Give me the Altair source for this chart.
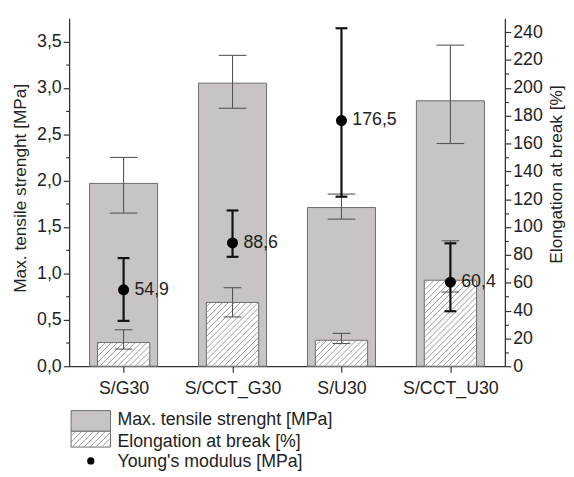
import math
import altair as alt
import pandas as pd

# ---------------- data ----------------
categories = ["S/G30", "S/CCT_G30", "S/U30", "S/CCT_U30"]

tensile = [1.97, 3.05, 1.71, 2.86]          # Max. tensile strenght [MPa]
tensile_hi = [2.25, 3.35, 1.855, 3.46]
tensile_lo = [1.65, 2.78, 1.585, 2.40]

elong = [17.0, 45.8, 18.6, 61.8]            # Elongation at break [%]
elong_hi = [26.2, 56.4, 23.6, 90.1]
elong_lo = [12.3, 35.4, 16.3, 53.3]

young = [54.9, 88.6, 176.5, 60.4]           # Young's modulus [MPa]
young_hi = [77.7, 111.9, 242.8, 88.3]
young_lo = [32.6, 78.6, 121.8, 39.5]
young_labels = ["54,9", "88,6", "176,5", "60,4"]

legend_labels = ["Max. tensile strenght [MPa]", "Elongation at break [%]", "Young's modulus [MPa]"]
left_title = "Max. tensile strenght [MPa]"
right_title = "Elongation at break [%]"

# ---------------- layout / style constants ----------------
W, H = 442, 353
X_DOM = [0.5, 4.5]
YL_DOM = [0, 3.75]
YR_DOM = [0, 250]
PXX = W / (X_DOM[1] - X_DOM[0])
PXYR = H / YR_DOM[1]
FONT = "Liberation Sans"

GREY_HALF = 69 / 2 / PXX
HATCH_HALF = 53 / 2 / PXX
CAP_GREY = 14 / PXX
CAP_HATCH = 9 / PXX
CAP_YOUNG = 6 / PXX

GREY = "#c7c4c3"
EDGE = "#6c6c6c"
HATCH = "#8c8c8c"

idx = list(range(1, len(categories) + 1))

df = pd.DataFrame({
    "i": idx, "cat": categories,
    "t": tensile, "t_hi": tensile_hi, "t_lo": tensile_lo,
    "e": elong, "e_hi": elong_hi, "e_lo": elong_lo,
    "y": young, "y_hi": young_hi, "y_lo": young_lo, "ylab": young_labels,
})
df["g0"] = df["i"] - GREY_HALF
df["g1"] = df["i"] + GREY_HALF
df["h0"] = df["i"] - HATCH_HALF
df["h1"] = df["i"] + HATCH_HALF
df["zero"] = 0.0


def caps(lo, hi, half):
    rows = []
    for i, a, b in zip(idx, lo, hi):
        rows.append({"x0": i - half, "x1": i + half, "v": a})
        rows.append({"x0": i - half, "x1": i + half, "v": b})
    return pd.DataFrame(rows)


def hatch_segments(x0, x1, ytop, ybot, step=6.0):
    segs = []
    c = math.floor((x0 + ytop) / step) * step
    while c <= x1 + ybot:
        xa = max(x0, c - ybot)
        xb = min(x1, c - ytop)
        if xb - xa > 0.5:
            segs.append((xa, c - xa, xb, c - xb))
        c += step
    return segs


def px_to_data(px, py):
    return X_DOM[0] + px / PXX, (H - py) / PXYR


hrows = []
for i, e in zip(idx, elong):
    x0 = (i - HATCH_HALF - X_DOM[0]) * PXX + 0.5
    x1 = (i + HATCH_HALF - X_DOM[0]) * PXX - 0.5
    ytop = H - e * PXYR + 0.5
    for (ax, ay, bx, by) in hatch_segments(x0, x1, ytop, H - 0.5):
        xa, ya = px_to_data(ax, ay)
        xb, yb = px_to_data(bx, by)
        hrows.append({"xa": xa, "ya": ya, "xb": xb, "yb": yb})
# legend swatch hatching (pixel box relative to the plot origin)
LG_X0, LG_X1 = 2, 42
LG_R1 = (398, 419)
LG_R2 = (419, 435)
for (ax, ay, bx, by) in hatch_segments(LG_X0 + 0.5, LG_X1 - 0.5, LG_R2[0] + 0.5, LG_R2[1] - 0.5):
    xa, ya = px_to_data(ax, ay)
    xb, yb = px_to_data(bx, by)
    hrows.append({"xa": xa, "ya": ya, "xb": xb, "yb": yb})
hatch_df = pd.DataFrame(hrows)

# ---------------- scales / axes ----------------
xscale = alt.Scale(domain=X_DOM, nice=False, zero=False)
label_list = "[" + ",".join("'" + c + "'" for c in categories) + "]"
xaxis = alt.Axis(
    values=idx, labelExpr=label_list + "[datum.value - 1]", title=None,
    tickSize=6, labelPadding=8, labelFontSize=18, labelFlush=False,
    labelOverlap=False, grid=False,
)

lscale = alt.Scale(domain=YL_DOM, nice=False, zero=True)
laxis = alt.Axis(
    values=[k * 0.25 for k in range(15)],
    labelExpr="(datum.value * 4) % 2 == 0 ? replace(format(datum.value, '.1f'), '.', ',') : ''",
    tickSize={"condition": {"test": "(datum.value * 4) % 2 == 0", "value": 6}, "value": 3.5},
    title=left_title, titleX=-49, titleY=172, titleAngle=270,
    titleAlign="center", titleBaseline="middle",
    labelPadding=2, labelFontSize=18, labelOverlap=False, grid=False,
)

rscale = alt.Scale(domain=YR_DOM, nice=False, zero=True)
raxis = alt.Axis(
    orient="right",
    values=list(range(0, 250, 10)),
    labelExpr="datum.value % 20 == 0 ? format(datum.value, 'd') : ''",
    tickSize={"condition": {"test": "datum.value % 20 == 0", "value": 6}, "value": 3.5},
    title=right_title, titleX=52, titleY=158, titleAngle=270,
    titleAlign="center", titleBaseline="middle",
    labelPadding=2, labelFontSize=18, labelOverlap=False, grid=False,
)


def X(f):
    return alt.X(f, type="quantitative", scale=xscale, axis=xaxis)


def YL(f):
    return alt.Y(f, type="quantitative", scale=lscale, axis=laxis)


def YR(f):
    return alt.Y(f, type="quantitative", scale=rscale, axis=raxis)


base = alt.Chart(df)

# ---------------- left group: tensile strength ----------------
grey_bars = base.mark_rect(fill=GREY, stroke=EDGE, strokeWidth=1).encode(
    x=X("g0"), x2="g1", y=YL("zero"), y2="t")
grey_err = base.mark_rule(color="#555555", strokeWidth=1.1).encode(
    x=X("i"), y=YL("t_lo"), y2="t_hi")
grey_caps = alt.Chart(caps(tensile_lo, tensile_hi, CAP_GREY)).mark_rule(
    color="#555555", strokeWidth=1.1).encode(x=X("x0"), x2="x1", y=YL("v"))

leg_df = pd.DataFrame({"label": legend_labels})
leg_grey = alt.Chart(leg_df.iloc[[0]]).mark_rect(fill=GREY, stroke=EDGE, strokeWidth=1).encode(
    x=alt.value(LG_X0), x2=alt.value(LG_X1), y=alt.value(LG_R1[0]), y2=alt.value(LG_R1[1]))

left = alt.layer(grey_bars, grey_err, grey_caps, leg_grey)

# ---------------- right group: elongation + Young's modulus ----------------
hatch_bars = base.mark_rect(fill="white", stroke=EDGE, strokeWidth=1).encode(
    x=X("h0"), x2="h1", y=YR("zero"), y2="e")
leg_hatch = alt.Chart(leg_df.iloc[[1]]).mark_rect(fill="white", stroke=EDGE, strokeWidth=1).encode(
    x=alt.value(LG_X0), x2=alt.value(LG_X1), y=alt.value(LG_R2[0]), y2=alt.value(LG_R2[1]))
hatch_lines = alt.Chart(hatch_df).mark_rule(color=HATCH, strokeWidth=0.9).encode(
    x=X("xa"), x2="xb", y=YR("ya"), y2="yb")
hatch_err = base.mark_rule(color="#555555", strokeWidth=1.1).encode(
    x=X("i"), y=YR("e_lo"), y2="e_hi")
hatch_caps = alt.Chart(caps(elong_lo, elong_hi, CAP_HATCH)).mark_rule(
    color="#555555", strokeWidth=1.1).encode(x=X("x0"), x2="x1", y=YR("v"))

young_err = base.mark_rule(color="#111111", strokeWidth=2.2).encode(
    x=X("i"), y=YR("y_lo"), y2="y_hi")
young_caps = alt.Chart(caps(young_lo, young_hi, CAP_YOUNG)).mark_rule(
    color="#111111", strokeWidth=2.2).encode(x=X("x0"), x2="x1", y=YR("v"))
young_pts = base.mark_point(filled=True, shape="circle", size=125, color="black", opacity=1).encode(
    x=X("i"), y=YR("y"))
young_txt = base.mark_text(align="left", baseline="middle", dx=11, fontSize=18,
                           font=FONT, color="#222222").encode(
    x=X("i"), y=YR("y"), text="ylab:N")

leg_dot = alt.Chart(leg_df.iloc[[2]]).mark_point(filled=True, shape="circle", size=55,
                                                 color="black", opacity=1).encode(
    x=alt.value(22), y=alt.value(449))
leg_text_layers = []
for k, yb in enumerate([413, 435, 455]):
    leg_text_layers.append(
        alt.Chart(leg_df.iloc[[k]]).mark_text(align="left", baseline="alphabetic", fontSize=18,
                                              font=FONT, color="#222222").encode(
            x=alt.value(49), y=alt.value(yb), text="label:N"))

right = alt.layer(hatch_bars, leg_hatch, hatch_lines, hatch_err, hatch_caps,
                  young_err, young_caps, young_pts, young_txt, leg_dot, *leg_text_layers)

chart = alt.layer(left, right).resolve_scale(y="independent").properties(
    width=W, height=H,
    padding={"left": 62, "top": 7, "right": 62, "bottom": 110},
    autosize=alt.AutoSizeParams(type="none"),
).configure_view(stroke=None).configure_axis(
    labelFont=FONT, titleFont=FONT, titleFontSize=17.5, titleFontWeight="normal",
    labelColor="#222222", titleColor="#222222",
    domainColor="#333333", tickColor="#333333", domainWidth=1.3, tickWidth=1.2,
)

chart.save("out.html", embed_options={"renderer": "svg", "actions": False})
